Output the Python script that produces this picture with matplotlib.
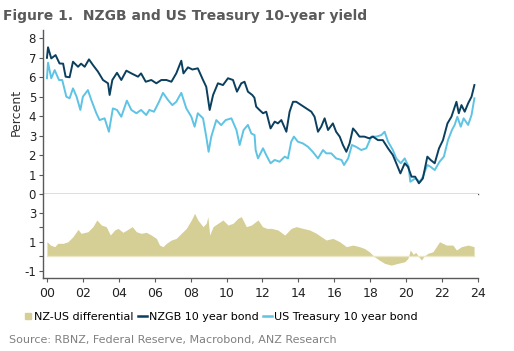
import matplotlib
matplotlib.use("Agg")
import matplotlib.pyplot as plt
from matplotlib.lines import Line2D

# values (decimal years)
nz_years = [2000.00, 2000.06, 2000.24, 2000.48, 2000.70, 2000.90, 2001.04, 2001.26, 2001.45, 2001.73,
            2001.90, 2002.10, 2002.34, 2002.56, 2002.84, 2003.12, 2003.40, 2003.49, 2003.64, 2003.90,
            2004.14, 2004.42, 2004.70, 2005.07, 2005.24, 2005.50, 2005.81, 2006.09, 2006.37, 2006.65,
            2006.93, 2007.20, 2007.48, 2007.60, 2007.85, 2008.10, 2008.40, 2008.69, 2008.87, 2009.06,
            2009.25, 2009.52, 2009.80, 2010.08, 2010.36, 2010.58, 2010.82, 2011.00, 2011.19, 2011.43,
            2011.55, 2011.65, 2011.80, 2012.03, 2012.21, 2012.45, 2012.68, 2012.86, 2013.05, 2013.33,
            2013.51, 2013.70, 2013.88, 2014.16, 2014.44, 2014.72, 2014.90, 2015.09, 2015.27, 2015.46,
            2015.65, 2015.92, 2016.10, 2016.30, 2016.48, 2016.67, 2016.85, 2017.04, 2017.20, 2017.40,
            2017.67, 2017.95, 2018.15, 2018.43, 2018.70, 2018.99, 2019.26, 2019.45, 2019.68, 2019.92,
            2020.10, 2020.30, 2020.50, 2020.71, 2020.93, 2021.18, 2021.36, 2021.59, 2021.83, 2022.05,
            2022.30, 2022.52, 2022.80, 2022.93, 2023.08, 2023.26, 2023.45, 2023.64, 2023.80]
nz_yield = [7.00, 7.54, 6.97, 7.14, 6.71, 6.70, 6.03, 6.00, 6.80, 6.54,
            6.70, 6.54, 6.92, 6.63, 6.29, 5.86, 5.69, 5.09, 5.86, 6.23,
            5.86, 6.34, 6.20, 6.03, 6.20, 5.77, 5.86, 5.69, 5.86, 5.86,
            5.77, 6.20, 6.85, 6.20, 6.51, 6.40, 6.46, 5.86, 5.51, 4.32,
            5.09, 5.69, 5.60, 5.95, 5.86, 5.26, 5.69, 5.77, 5.26, 5.09,
            4.95, 4.49, 4.35, 4.15, 4.23, 3.37, 3.72, 3.63, 3.80, 3.20,
            4.23, 4.74, 4.74, 4.57, 4.40, 4.23, 3.97, 3.20, 3.46, 3.89,
            3.29, 3.63, 3.20, 2.95, 2.52, 2.17, 2.60, 3.37, 3.20, 2.95,
            2.95, 2.86, 2.95, 2.77, 2.77, 2.35, 2.00, 1.58, 1.06, 1.58,
            1.40, 0.89, 0.89, 0.55, 0.80, 1.92, 1.75, 1.58, 2.35, 2.77,
            3.63, 3.97, 4.74, 4.15, 4.57, 4.23, 4.66, 5.00, 5.60]

us_years = [2000.00, 2000.06, 2000.24, 2000.43, 2000.67, 2000.85, 2001.08, 2001.26, 2001.45, 2001.65,
            2001.86, 2002.00, 2002.28, 2002.47, 2002.75, 2002.93, 2003.21, 2003.45, 2003.67, 2003.90,
            2004.14, 2004.45, 2004.70, 2004.98, 2005.24, 2005.53, 2005.70, 2005.96, 2006.24, 2006.46,
            2006.74, 2006.98, 2007.20, 2007.48, 2007.76, 2008.04, 2008.22, 2008.40, 2008.69, 2008.87,
            2009.00, 2009.15, 2009.43, 2009.70, 2009.95, 2010.27, 2010.55, 2010.73, 2010.95, 2011.19,
            2011.38, 2011.56, 2011.62, 2011.75, 2012.03, 2012.21, 2012.45, 2012.68, 2012.95, 2013.24,
            2013.42, 2013.60, 2013.75, 2013.97, 2014.25, 2014.53, 2014.80, 2015.09, 2015.37, 2015.55,
            2015.83, 2016.10, 2016.40, 2016.54, 2016.77, 2016.98, 2017.20, 2017.50, 2017.78, 2018.06,
            2018.34, 2018.62, 2018.80, 2018.99, 2019.26, 2019.45, 2019.70, 2019.92, 2020.14, 2020.23,
            2020.50, 2020.77, 2020.93, 2021.18, 2021.36, 2021.59, 2021.86, 2022.10, 2022.33, 2022.55,
            2022.70, 2022.85, 2023.04, 2023.20, 2023.45, 2023.64, 2023.80]
us_yield = [5.95, 6.75, 5.95, 6.37, 5.86, 5.86, 5.00, 4.92, 5.43, 5.00,
            4.32, 5.00, 5.34, 4.83, 4.15, 3.80, 3.89, 3.20, 4.40, 4.32,
            3.97, 4.80, 4.32, 4.15, 4.32, 4.06, 4.32, 4.23, 4.74, 5.20,
            4.83, 4.57, 4.74, 5.20, 4.40, 3.97, 3.46, 4.15, 3.89, 2.95,
            2.17, 2.95, 3.80, 3.54, 3.80, 3.89, 3.29, 2.52, 3.29, 3.55,
            3.11, 3.03, 2.26, 1.83, 2.35, 2.00, 1.58, 1.75, 1.66, 1.92,
            1.83, 2.69, 2.95, 2.69, 2.60, 2.43, 2.17, 1.83, 2.26, 2.09,
            2.09, 1.83, 1.75, 1.49, 1.83, 2.52, 2.43, 2.26, 2.35, 2.95,
            2.95, 3.03, 3.20, 2.69, 2.26, 1.83, 1.58, 1.83, 1.40, 0.63,
            0.80, 0.63, 0.89, 1.49, 1.40, 1.23, 1.66, 1.92, 2.77, 3.29,
            3.55, 3.97, 3.46, 3.89, 3.55, 4.06, 4.92]

diff_years = [2000.00, 2000.20, 2000.43, 2000.60, 2000.90, 2001.17, 2001.45, 2001.73, 2001.90, 2002.28,
              2002.56, 2002.78, 2003.03, 2003.30, 2003.53, 2003.77, 2003.96, 2004.23, 2004.45, 2004.75,
              2004.98, 2005.24, 2005.53, 2005.81, 2006.09, 2006.27, 2006.46, 2006.65, 2006.93, 2007.20,
              2007.48, 2007.76, 2008.04, 2008.22, 2008.40, 2008.69, 2008.87, 2008.96, 2009.06, 2009.25,
              2009.52, 2009.80, 2010.08, 2010.36, 2010.63, 2010.82, 2011.10, 2011.38, 2011.75, 2012.00,
              2012.25, 2012.50, 2012.86, 2013.24, 2013.60, 2013.88, 2014.25, 2014.63, 2015.00, 2015.27,
              2015.55, 2015.92, 2016.30, 2016.67, 2017.04, 2017.40, 2017.67, 2017.95, 2018.23, 2018.50,
              2018.80, 2019.17, 2019.54, 2019.92, 2020.10, 2020.23, 2020.40, 2020.53, 2020.70, 2020.85,
              2021.00, 2021.21, 2021.49, 2021.86, 2022.24, 2022.60, 2022.80, 2023.08, 2023.45, 2023.78]
diff = [1.00, 0.77, 0.66, 0.89, 0.89, 1.00, 1.35, 1.85, 1.58, 1.69,
        2.04, 2.50, 2.15, 2.04, 1.46, 1.81, 1.92, 1.65, 1.81, 2.04,
        1.69, 1.58, 1.65, 1.46, 1.23, 0.77, 0.66, 0.89, 1.12, 1.23,
        1.58, 1.92, 2.50, 2.96, 2.50, 2.04, 2.27, 2.73, 1.46, 2.04,
        2.27, 2.50, 2.15, 2.27, 2.61, 2.73, 2.04, 2.15, 2.50, 2.04,
        1.92, 1.92, 1.81, 1.46, 1.92, 2.04, 1.92, 1.81, 1.58, 1.35,
        1.12, 1.23, 1.00, 0.66, 0.77, 0.66, 0.54, 0.31, -0.03, -0.26,
        -0.49, -0.61, -0.49, -0.38, -0.15, 0.43, 0.13, 0.27, -0.03, -0.26,
        0.00, 0.20, 0.31, 1.00, 0.77, 0.77, 0.43, 0.66, 0.77, 0.66]

year_ticks = list(range(2000, 2025, 2))
year_labels = ["%02d" % (y % 100) for y in year_ticks]

NZ_COL = "#0b3f5e"
US_COL = "#5ec3e4"
DIFF_COL = "#d5ce95"
GREY = "#595959"

plt.rcParams["font.family"] = "DejaVu Sans"
fig = plt.figure(figsize=(5.14, 3.51), dpi=100)

left, right = 43 / 514, 478 / 514
ax1 = fig.add_axes([left, 1 - 194 / 351, right - left, (194 - 30) / 351])
ax2 = fig.add_axes([left, 1 - 278.3 / 351, right - left, (278.3 - 194) / 351])

# top panel: yields
ax1.plot(nz_years, nz_yield, color=NZ_COL, lw=1.4, zorder=3)
ax1.plot(us_years, us_yield, color=US_COL, lw=1.4, zorder=2)
ax1.set_xlim(1999.78, 2024.0)
ax1.set_ylim(0, 8.43)
ax1.set_yticks(range(0, 9))
ax1.set_xticks([])
ax1.set_ylabel("Percent", fontsize=9, color="#333333", labelpad=4)
for s in ["top", "right"]:
    ax1.spines[s].set_visible(False)

# bottom panel: differential
ax2.fill_between(diff_years, 0, diff, color=DIFF_COL, lw=0)
ax2.plot([diff_years[0], diff_years[-1]], [0, 0], color="#ebe6c6", lw=1)
ax2.set_xlim(1999.78, 2024.0)
ax2.set_ylim(-1.52, 4.29)
ax2.set_yticks([-1, 0, 1, 2, 3])
ax2.set_yticklabels(["-1", "", "1", "", "3"])
ax2.set_xticks(year_ticks)
ax2.set_xticklabels(year_labels)
for s in ["top", "right"]:
    ax2.spines[s].set_visible(False)

for ax in (ax1, ax2):
    for s in ["left", "bottom"]:
        ax.spines[s].set_color(GREY)
        ax.spines[s].set_linewidth(1)
    ax.tick_params(colors=GREY, labelcolor="#222222", labelsize=8.5, length=3, width=0.8, pad=2)
ax2.tick_params(axis="x", labelsize=9, pad=3)

fig.text(0.006, 0.975, "Figure 1.  NZGB and US Treasury 10-year yield", fontsize=10,
         fontweight="bold", color="#5a5a5a", va="top", ha="left")

handles = [
    Line2D([], [], marker="s", ls="none", color=DIFF_COL, markersize=4),
    Line2D([], [], color=NZ_COL, lw=1.8),
    Line2D([], [], color=US_COL, lw=1.8),
]
labels = ["NZ-US differential", "NZGB 10 year bond", "US Treasury 10 year bond"]
fig.legend(handles, labels, loc="center left", bbox_to_anchor=(0.045, 1 - 317 / 351), ncol=3,
           frameon=False, fontsize=8, handlelength=0.8, handletextpad=0.15,
           columnspacing=0.45, borderaxespad=0, borderpad=0)

fig.text(0.018, 1 - 340 / 351, "Source: RBNZ, Federal Reserve, Macrobond, ANZ Research",
         fontsize=8, color="#808080", va="center", ha="left")

fig.savefig("out.png", dpi=100)
